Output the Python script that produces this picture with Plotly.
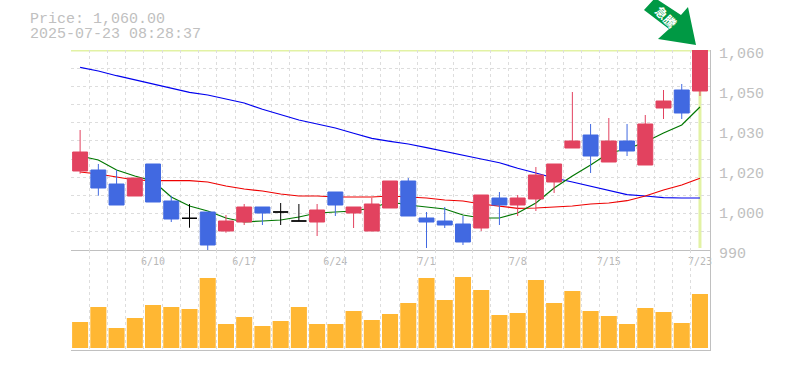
import plotly.graph_objects as go

dates = ["6/4","6/5","6/6","6/9","6/10","6/11","6/12","6/13","6/16","6/17","6/18","6/19","6/20","6/23","6/24","6/25","6/26","6/27",
         "6/30","7/1","7/2","7/3","7/4","7/7","7/8","7/9","7/10","7/11","7/14","7/15","7/16","7/17","7/18","7/22","7/23"]
opens = [1017.65,1018,1013.1,1008.9,1020.1,1007.15,1001.1,1003.3,996.65,999.8,1005.05,1003.3,1000.15,999.8,1010.3,1002.95,996.65,1004.7,
         1014.15,1001.2,1000.15,999.1,997.7,1008.2,1005.75,1007.85,1013.8,1025.7,1030.25,1020.8,1028.15,1019.75,1039.7,1046,1045.65]
closes = [1024.3,1011.7,1005.75,1015.2,1006.8,1000.85,1001.1,991.75,1000.15,1005.05,1002.95,1003.3,1000.15,1004,1005.75,1005.05,1006.1,1014.15,
          1001.9,999.8,998.75,992.8,1009.25,1005.75,1008.2,1016.25,1020.1,1028.15,1022.9,1028.15,1024.65,1034.1,1042.15,1037.95,1060]
highs = [1032,1020.1,1018,1015.2,1020.1,1009,1006.1,1003.3,1002.25,1006.1,1005.05,1006.45,1006.1,1006.1,1010.3,1005.05,1008.2,1014.15,
         1015.2,1003.3,1005.05,1001.9,1009.25,1010.3,1009.25,1019.05,1020.1,1045.3,1034.1,1036.2,1034.1,1037.25,1046,1048.1,1060]
lows = [1016.7,1009,1005.75,1008.9,1006.8,999.8,997.8,989.8,996.05,998.75,998.75,998.75,1000.15,994.9,1001.9,997.7,996.65,1004.7,
        1001.9,990.7,997.7,991.75,996.65,998.75,1001.9,1003.65,1009.95,1025.7,1016.95,1020.8,1022.9,1019.75,1035.85,1035.85,1043.9]
ma_long = [1053.9,1052.65,1051,1049.5,1048.1,1046.6,1045.2,1044.25,1042.75,1041.45,1039.25,1037.5,1035.5,1034.1,1032.7,1030.85,1029.1,1028.05,
           1027.1,1025.8,1024.4,1023.25,1021.85,1020.55,1018.6,1016.95,1015.2,1013.8,1012.4,1010.75,1009.4,1008.9,1008.3,1008.2,1008.2]
ma_mid = [1017.3,1016.6,1015.55,1014.5,1014.3,1014.3,1014.3,1013.8,1012.4,1011.35,1010.65,1009.6,1008.9,1008.9,1008.55,1008.55,1008.55,1008.9,
          1008.55,1008.2,1007.5,1007.15,1006.1,1005.25,1004.6,1004.7,1005.05,1005.4,1006.1,1006.45,1007.25,1008.9,1011,1012.75,1015.1]
ma_short = [1022.9,1021.5,1018,1015.9,1014.15,1008.55,1005.4,1003.65,1001.2,999.8,1000.15,1000.5,1001.55,1002.95,1003.3,1003.65,1004.7,1006.8,
            1005.75,1005.05,1004.35,1002.25,1001.2,1001.2,1002.95,1006.45,1011.7,1015.9,1019.75,1023.95,1025.35,1027.8,1030.95,1033.75,1040.05]
volumes = [26,41,20,30,43,41,39,70,24,31,22,27,41,24,24,37,28,34,45,70,48,71,58,33,35,68,45,57,37,32,24,40,36,25,54]

x_ticks = [4, 9, 14, 19, 24, 29, 34]
y_tickvals = [1060, 1046, 1032, 1018, 1004, 990]
y_ticktext = ["1,060", "1,050", "1,030", "1,020", "1,000", "990"]
price_label = "Price: 1,060.00"
time_label = "2025-07-23 08:28:37"
badge_text = "急騰"

L, R, T, B = 71, 710, 50, 350
W, H = 785, 370
GRID = "#dddddd"
AXIS = "#c0c0c0"
GUIDE = "#e2f2a4"
UP = "#e2425f"
DOWN = "#4169e1"
MONO = "Liberation Mono, monospace"

xs = list(range(len(dates)))
px = lambda v: (v - L) / (R - L)
py = lambda v: (B - v) / (B - T)

fig = go.Figure()
for values, color in ((ma_long, "#0000ee"), (ma_mid, "#ee0000"), (ma_short, "#007700")):
    fig.add_trace(go.Scatter(x=xs, y=values, mode="lines", line=dict(color=color, width=1.2),
                             xaxis="x", yaxis="y", hoverinfo="skip"))

groups = {
    "up": ([i for i in xs if closes[i] > opens[i]], UP),
    "down": ([i for i in xs if closes[i] < opens[i]], DOWN),
    "flat": ([i for i in xs if closes[i] == opens[i]], "#000000"),
}
for idx, color in groups.values():
    style = dict(line=dict(color=color, width=1), fillcolor=color)
    fig.add_trace(go.Candlestick(
        x=idx, open=[opens[i] for i in idx], high=[highs[i] for i in idx],
        low=[lows[i] for i in idx], close=[closes[i] for i in idx],
        increasing=style, decreasing=style, xaxis="x", yaxis="y3", whiskerwidth=0))

fig.add_trace(go.Bar(x=xs, y=volumes, marker=dict(color="#ffb733", line=dict(width=0)),
                     xaxis="x2", yaxis="y2", hoverinfo="skip"))

minor_x = dict(tickvals=[i - 0.5 for i in xs] + [len(xs) - 0.5], showgrid=True, gridcolor=GRID,
               griddash="3px,3px", gridwidth=1, ticklen=0)
x_range = [-0.5, 34.55]
y_range = [990, 1060]

fig.update_layout(
    width=W, height=H, showlegend=False, paper_bgcolor="white", plot_bgcolor="white",
    margin=dict(l=L, r=W - R, t=T, b=H - B, autoexpand=False),
    bargap=0.12, boxmode="overlay", boxgap=0.18, boxgroupgap=0,
    xaxis=dict(domain=[0, 1], range=x_range, anchor="y", tickmode="array", tickvals=x_ticks,
               ticktext=[dates[i] for i in x_ticks], showgrid=False, zeroline=False, minor=minor_x,
               rangeslider=dict(visible=False), showline=True, linecolor=AXIS, linewidth=1, ticks="",
               tickfont=dict(family="DejaVu Sans Mono, monospace", size=10, color="#b8b8b8"), ticklabelstandoff=2),
    xaxis2=dict(domain=[0, 1], range=x_range, anchor="y2", showticklabels=False, showgrid=False,
                zeroline=False, minor=minor_x, showline=True, linecolor=AXIS, linewidth=1, ticks=""),
    yaxis=dict(domain=[1 / 3, 1], range=y_range, side="right", anchor="x", tickmode="array",
               tickvals=y_tickvals, ticktext=y_ticktext, showgrid=False, zeroline=False,
               minor=dict(tickvals=[990 + 70 * k / 11 for k in range(12)], showgrid=True, gridcolor=GRID,
                          griddash="3px,3px", gridwidth=1, ticklen=0),
               showline=True, linecolor=AXIS, linewidth=1, ticks="", ticklabelshift=3, ticklabelstandoff=5,
               tickfont=dict(family=MONO, size=15, color=AXIS)),
    yaxis3=dict(range=y_range, overlaying="y", side="right", anchor="x", visible=False),
    yaxis2=dict(domain=[0, 1 / 3], range=[-2, 98], side="right", anchor="x2", showgrid=False, zeroline=False,
                showticklabels=False, showline=True, linecolor=AXIS, linewidth=1, ticks=""),
)

fig.add_shape(type="line", xref="paper", yref="y", x0=0, x1=1, y0=closes[-1], y1=closes[-1],
              line=dict(color=GUIDE, width=3), layer="below")
fig.add_shape(type="line", xref="x", yref="y", x0=xs[-1], x1=xs[-1], y0=lows[19], y1=closes[-1],
              line=dict(color=GUIDE, width=3), layer="below")

arrow = [(696, 45), (688, 7), (681, 15), (655, -2), (644, 10), (669, 29), (658, 39)]
path = "M " + " L ".join(f"{px(a):.5f},{py(b):.5f}" for a, b in arrow) + " Z"
fig.add_shape(type="path", xref="paper", yref="paper", path=path, fillcolor="#009944", line=dict(width=0), layer="below")
fig.add_annotation(xref="paper", yref="paper", x=px(666), y=py(17), text=f"<b>{badge_text}</b>", showarrow=False, textangle=45,
                   xanchor="center", yanchor="middle",
                   font=dict(family="Noto Sans CJK JP", size=12, color="white"))

for text, yy in ((price_label, 19), (time_label, 34)):
    fig.add_annotation(xref="paper", yref="paper", x=px(28), y=py(yy), text=text, showarrow=False,
                       xanchor="left", yanchor="middle", font=dict(family=MONO, size=15, color=AXIS))

fig.write_html("out.html", config=dict(displayModeBar=False), post_script="document.body.style.margin='0';")
